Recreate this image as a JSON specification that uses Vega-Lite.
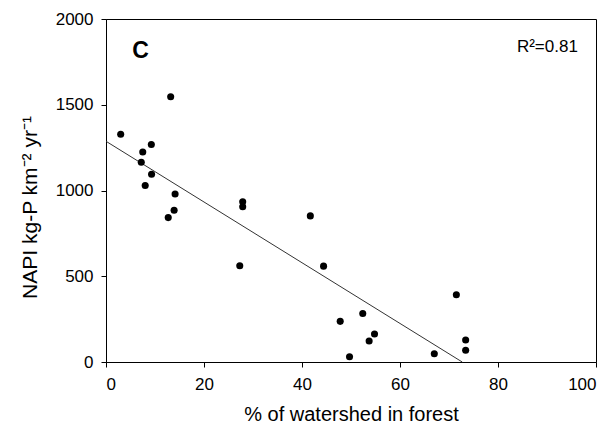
{
  "$schema": "https://vega.github.io/schema/vega-lite/v6.json",
  "autosize": {"type": "none"},
  "width": 490,
  "height": 343,
  "padding": {"left": 106, "top": 19, "right": 19, "bottom": 70},
  "background": "white",
  "config": {
    "font": "Liberation Sans",
    "view": {"stroke": "black", "strokeWidth": 1},
    "axis": {
      "grid": false,
      "domainColor": "black",
      "tickColor": "black",
      "tickSize": 5,
      "labelFont": "Liberation Sans",
      "titleFont": "Liberation Sans",
      "labelFontSize": 17,
      "titleFontSize": 20,
      "labelColor": "black",
      "titleColor": "black",
      "titleFontWeight": "normal"
    }
  },
  "datasets": {
    "pts": [
      {"forest": 3.0, "napi": 1328},
      {"forest": 13.2, "napi": 1547},
      {"forest": 9.25, "napi": 1268},
      {"forest": 7.5, "napi": 1225},
      {"forest": 7.2, "napi": 1165},
      {"forest": 9.3, "napi": 1095},
      {"forest": 8.0, "napi": 1029},
      {"forest": 14.1, "napi": 980},
      {"forest": 13.9, "napi": 885},
      {"forest": 12.7, "napi": 842},
      {"forest": 27.9, "napi": 934},
      {"forest": 27.9, "napi": 905},
      {"forest": 27.3, "napi": 561},
      {"forest": 41.7, "napi": 852},
      {"forest": 44.4, "napi": 559},
      {"forest": 71.5, "napi": 392},
      {"forest": 52.4, "napi": 283},
      {"forest": 47.8, "napi": 237},
      {"forest": 54.8, "napi": 163},
      {"forest": 53.7, "napi": 122},
      {"forest": 73.4, "napi": 128},
      {"forest": 73.4, "napi": 68},
      {"forest": 67.0, "napi": 48},
      {"forest": 49.7, "napi": 31}
    ],
    "fit": [
      {"forest": 0, "napi": 1287},
      {"forest": 72.7, "napi": 0}
    ],
    "labels": [
      {"forest": 7.06, "napi": 1813, "label": "C", "kind": "panel"},
      {"forest": 96.3, "napi": 1837, "label": "R²=0.81", "kind": "r2"}
    ]
  },
  "layer": [
    {
      "data": {"name": "fit"},
      "mark": {"type": "line", "color": "#333333", "strokeWidth": 1},
      "encoding": {
        "x": {"field": "forest", "type": "quantitative", "scale": {"domain": [0, 100]},
          "axis": {"title": "% of watershed in forest", "values": [0, 20, 40, 60, 80, 100], "format": "d", "labelPadding": 9, "titlePadding": 12}},
        "y": {"field": "napi", "type": "quantitative", "scale": {"domain": [0, 2000]},
          "axis": {"title": "NAPI kg-P km⁻² yr⁻¹", "values": [0, 500, 1000, 1500, 2000], "format": "d", "labelPadding": 8, "titlePadding": 15, "titleFontSize": 21, "titleY": 188}}
      }
    },
    {
      "data": {"name": "pts"},
      "mark": {"type": "point", "filled": true, "color": "black", "opacity": 1, "size": 50},
      "encoding": {
        "x": {"field": "forest", "type": "quantitative"},
        "y": {"field": "napi", "type": "quantitative"}
      }
    },
    {
      "data": {"name": "labels"},
      "transform": [{"filter": "datum.kind == 'panel'"}],
      "mark": {"type": "text", "fontSize": 23, "fontWeight": "bold", "align": "center", "baseline": "middle", "color": "black"},
      "encoding": {
        "x": {"field": "forest", "type": "quantitative"},
        "y": {"field": "napi", "type": "quantitative"},
        "text": {"field": "label"}
      }
    },
    {
      "data": {"name": "labels"},
      "transform": [{"filter": "datum.kind == 'r2'"}],
      "mark": {"type": "text", "fontSize": 17, "align": "right", "baseline": "middle", "color": "black"},
      "encoding": {
        "x": {"field": "forest", "type": "quantitative"},
        "y": {"field": "napi", "type": "quantitative"},
        "text": {"field": "label"}
      }
    }
  ]
}
